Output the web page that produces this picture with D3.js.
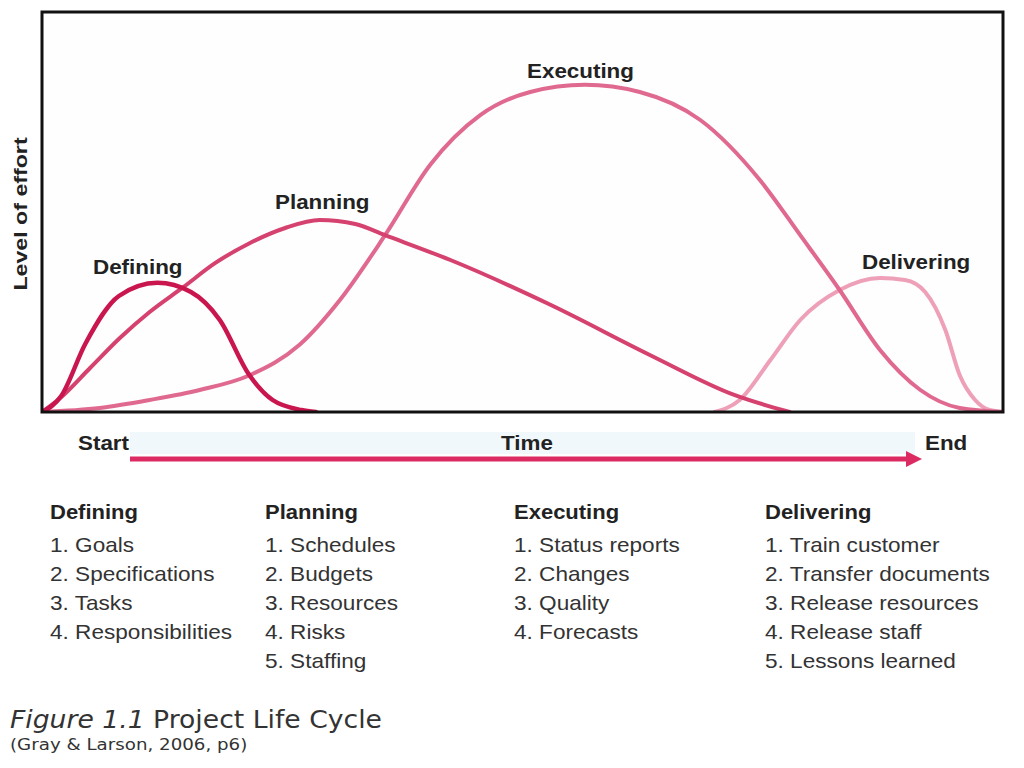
<!DOCTYPE html>
<html><head><meta charset="utf-8">
<script src="https://cdn.jsdelivr.net/npm/d3@7"></script>
<style>body{margin:0;background:#fff}</style>
</head><body>
<script>
// Time (0-100) vs level of effort (0-100)
const phases = ["Defining","Planning","Executing","Delivering"];
const definingX = [0,2,4.5,8,12,15.5,18.5,21.5,24,27,28.5];
const definingY = [0,4,17,29,32.3,30,23,9.5,3,0.5,0];
const planningX = [0,1.9,5,8.1,11.2,14.7,18,21.6,25.3,28.9,32.6,35.7,42.5,52.9,63.3,72.1,77.8];
const planningY = [0,3.5,11,18.5,25,31.2,37.2,42.2,46,48,47,44.2,38,26.8,14.2,4.2,0];
const executingX = [0,6,11.2,16.4,21.6,26.8,31,35.7,40.4,45.6,50.8,56.5,62.2,68.5,74.7,78.9,83,87.2,91.4,95.5,100];
const executingY = [0,1,3,5.5,9.2,16.8,28,44.2,61.8,74.2,80,81.8,80,73,58,44.2,30.5,15.5,5.5,1,0];
const deliveringX = [70,72.6,75.8,78.9,83,87.2,89.8,91.9,94,95.5,97.1,98.6,100];
const deliveringY = [0,3,13,23,30.5,33.5,33,30,20.5,9.2,3,0.5,0];
const axisLabels = {y:"Level of effort", start:"Start", mid:"Time", end:"End"};
const tasks = {
  Defining:["1. Goals","2. Specifications","3. Tasks","4. Responsibilities"],
  Planning:["1. Schedules","2. Budgets","3. Resources","4. Risks","5. Staffing"],
  Executing:["1. Status reports","2. Changes","3. Quality","4. Forecasts"],
  Delivering:["1. Train customer","2. Transfer documents","3. Release resources","4. Release staff","5. Lessons learned"]
};
const captionTitle = "Figure 1.1", captionText = " Project Life Cycle", captionSource = "(Gray & Larson, 2006, p6)";

const W=1024,H=768;
const svg=d3.select("body").append("svg").attr("width",W).attr("height",H);
const L=42,R=1003,T=12,B=412;
const x=d3.scaleLinear().domain([0,100]).range([L,R]);
const y=d3.scaleLinear().domain([0,100]).range([B,T]);

svg.append("defs").append("clipPath").attr("id","clip").append("rect")
  .attr("x",L).attr("y",T).attr("width",R-L).attr("height",B-T);
svg.append("rect").attr("x",L).attr("y",T).attr("width",R-L).attr("height",B-T).attr("fill","#fefefe");

const series=[
  {name:"Defining",xs:definingX,ys:definingY,color:"#c9164f",w:4.5},
  {name:"Planning",xs:planningX,ys:planningY,color:"#d6426f",w:4},
  {name:"Executing",xs:executingX,ys:executingY,color:"#e06990",w:4},
  {name:"Delivering",xs:deliveringX,ys:deliveringY,color:"#eea0b8",w:4}
];
const line=d3.line().x(d=>x(d[0])).y(d=>y(d[1])).curve(d3.curveMonotoneX);
const g=svg.append("g").attr("clip-path","url(#clip)");
series.slice().reverse().forEach(s=>{
  g.append("path").attr("d",line(s.xs.map((v,i)=>[v,s.ys[i]])))
   .attr("fill","none").attr("stroke",s.color).attr("stroke-width",s.w).attr("stroke-linecap","round");
});
svg.append("rect").attr("x",L).attr("y",T).attr("width",R-L).attr("height",B-T)
  .attr("fill","none").attr("stroke","#111").attr("stroke-width",3);

const SANS="Liberation Sans, Arial, sans-serif";
function stext(px,py,str,o){
  const gg=svg.append("g").attr("transform",`translate(${px},${py})${o.rot?" rotate("+o.rot+")":""} scale(${o.sx||1},1)`);
  const t=gg.append("text").attr("font-family",o.family||SANS).attr("font-size",o.size)
    .attr("font-weight",o.bold?"bold":"normal").attr("fill",o.fill||"#222")
    .attr("text-anchor",o.anchor||"start").text(str);
  return t;
}
// curve labels
const lab=[["Defining",93,274],["Planning",275,209],["Executing",527,78],["Delivering",862,269]];
lab.forEach(l=>stext(l[1],l[2],l[0],{size:20,sx:1.12,bold:true}));
// y label
stext(27,214,axisLabels.y,{size:19,sx:1.22,bold:true,rot:-90,anchor:"middle"});

// time arrow
svg.append("rect").attr("x",130).attr("y",432).attr("width",785).attr("height",22).attr("fill","#f1f8fb");
stext(78,450,axisLabels.start,{size:20,sx:1.12,bold:true});
stext(527,450,axisLabels.mid,{size:20,sx:1.12,bold:true,anchor:"middle"});
stext(925,450,axisLabels.end,{size:20,sx:1.12,bold:true});
const ax=d3.scaleLinear().domain([0,100]).range([130,922]);
svg.append("line").attr("x1",ax(0)).attr("x2",ax(100)-12).attr("y1",459).attr("y2",459)
  .attr("stroke","#dc2a62").attr("stroke-width",5);
svg.append("path").attr("d",`M${ax(100)},459 L${ax(100)-16},451 L${ax(100)-16},467 Z`).attr("fill","#dc2a62");

// task lists
const colX=[50,265,514,765];
phases.forEach((p,i)=>{
  stext(colX[i],519,p,{size:20,sx:1.1,bold:true});
  tasks[p].forEach((t,j)=>{
    stext(colX[i],552+j*29,t,{size:20,sx:1.13,fill:"#333"});
  });
});

// caption
const cap=stext(10,728,"",{size:24,sx:1.11,family:"DejaVu Sans, Verdana, sans-serif",fill:"#333"});
cap.append("tspan").attr("font-style","italic").text(captionTitle);
cap.append("tspan").text(captionText);
stext(10,750,captionSource,{size:16,sx:1.14,family:"DejaVu Sans, Verdana, sans-serif",fill:"#333"});
</script>
</body></html>
